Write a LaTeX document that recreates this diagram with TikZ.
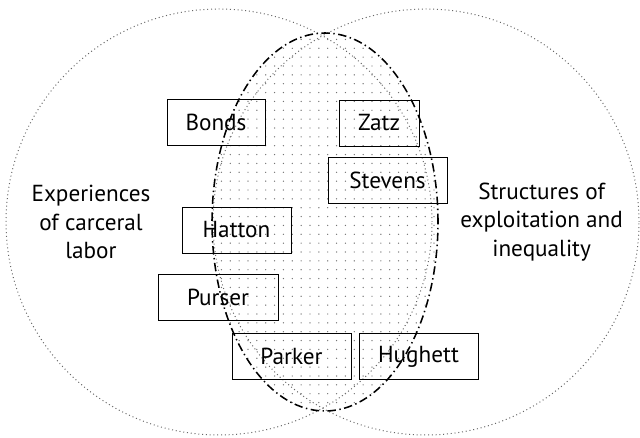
\documentclass[tikz,border=0pt]{standalone}
\usepackage{fontspec}
\setmainfont{PT Sans}
\usepackage{tikz}
\usetikzlibrary{patterns.meta}
\tikzset{
	namebox/.style={draw, line width=0.6pt, minimum height=1.15cm, inner sep=0pt, font=\fontsize{16.5}{18}\selectfont},
	setlabel/.style={align=center, font=\fontsize{16.5}{20.5}\selectfont}
}
\newcommand{\drawnamebox}[5]{% -- name, x, y, width, text
	\node[namebox, minimum width=#4cm] (#1) at (#2, #3) {#5};
}

\begin{document}
\begin{tikzpicture}
\useasboundingbox (0, 0) rectangle (16, 10.95);

% the two sets
\draw[dotted, black!60, line width=0.7pt] (5.475, 5.4) circle (5.325);
\draw[dotted, black!60, line width=0.7pt] (10.65, 5.4) circle (5.325);
\node[setlabel] (carceral) at (2.275, 5.4) {Experiences\\of carceral\\labor};
\node[setlabel] (exploit) at (13.54, 5.4) {Structures of\\exploitation and\\inequality};

% overlap region
\fill[pattern={Dots[distance=6.3pt, radius=0.5pt]}, pattern color=black!55] (8.125, 5.4) ellipse (2.825 and 4.725);

\drawnamebox{bonds}{5.4}{7.8875}{2.45}{Bonds}
\drawnamebox{zatz}{9.475}{7.875}{2.0}{Zatz}
\drawnamebox{stevens}{9.6875}{6.45}{2.975}{Stevens}
\drawnamebox{hatton}{5.9125}{5.2}{2.725}{Hatton}
\drawnamebox{purser}{5.45}{3.5125}{3.0}{Purser}
\drawnamebox{parker}{7.2875}{2.0375}{2.975}{Parker}
\drawnamebox{hughett}{10.4625}{2.0375}{2.975}{Hughett}

\draw[line width=1.1pt, dash pattern=on 6pt off 2.5pt on 1pt off 2.5pt] (8.125, 5.4) ellipse (2.825 and 4.725);
\end{tikzpicture}
\end{document}
